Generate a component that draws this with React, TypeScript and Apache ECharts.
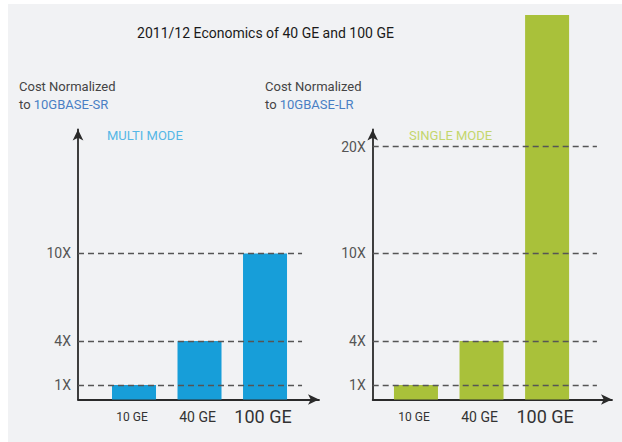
import React, { useEffect, useRef } from 'react';
import * as echarts from 'echarts';

const categories = ['10 GE', '40 GE', '100 GE'];
const multiModeCost = [1, 4, 10];
const singleModeCost = [1, 4, 32.3];
const multiModeTicks = [1, 4, 10];
const singleModeTicks = [1, 4, 10, 20];

const labelFontSizes = [12, 14, 18];

// the single-mode axis is compressed above 10X
const BREAK_AT = 10;
const UPPER_SLOPE = 0.732;
const linear = (v: number) => v;
const compressed = (v: number) => (v <= BREAK_AT ? v : BREAK_AT + (v - BREAK_AT) * UPPER_SLOPE);

const FONT = 'Roboto';
const BLUE = '#179ed9';
const GREEN = '#a9c13a';
const AXIS = '#2a2a2a';

function makeSeries(idx: number, values: number[], ticks: number[], f: (v: number) => number, color: string, xmin: number, dashEnd: number) {
  return {
    type: 'bar',
    xAxisIndex: idx,
    yAxisIndex: idx,
    barWidth: 44,
    clip: false,
    itemStyle: { color },
    data: values.map((v, i) => ({
      value: [i, f(v)],
      label: { fontSize: labelFontSizes[i] },
    })),
    label: {
      show: true,
      position: 'bottom',
      distance: 7,
      offset: [-2, 0],
      lineHeight: 20,
      color: '#333',
      fontFamily: FONT,
      formatter: (p: any) => categories[p.dataIndex],
    },
    markLine: {
      silent: true,
      symbol: ['none', 'none'],
      lineStyle: { type: [6, 4], color: '#555', width: 1.3 },
      label: {
        show: true,
        position: 'start',
        distance: 7,
        color: '#555',
        fontSize: 14,
        fontFamily: FONT,
      },
      data: ticks.map((t) => [
        { coord: [xmin, f(t)], label: { formatter: `${t}X` } },
        { coord: [dashEnd, f(t)] },
      ]),
    },
  };
}

const Y_MAX = 18.49;

export default function App() {
  const ref = useRef<HTMLDivElement>(null);
  useEffect(() => {
    if (!ref.current) return;
    const chart = echarts.init(ref.current, undefined, { renderer: 'svg' });
    const axisLine = {
      show: true,
      onZero: false,
      symbol: ['none', 'arrow'],
      symbolSize: [8, 11],
      lineStyle: { color: AXIS, width: 1.8 },
    };
    const xAxisBase = {
      type: 'value',
      axisLine,
      axisTick: { show: false },
      axisLabel: { show: false },
      splitLine: { show: false },
    };
    const yAxisBase = {
      type: 'value',
      min: 0,
      max: Y_MAX,
      axisLine,
      axisTick: { show: false },
      axisLabel: { show: false },
      splitLine: { show: false },
    };
    const leftMin = -0.855;
    const rightMin = -0.66;
    chart.setOption({
      animation: false,
      grid: [
        { left: 78, right: 622 - 319, top: 129.5, bottom: 442 - 399.5 },
        { left: 372.7, right: 622 - 612, top: 129.5, bottom: 442 - 399.5 },
      ],
      xAxis: [
        { ...xAxisBase, gridIndex: 0, min: leftMin, max: 2.824 },
        { ...xAxisBase, gridIndex: 1, min: rightMin, max: 2.99 },
      ],
      yAxis: [
        { ...yAxisBase, gridIndex: 0 },
        { ...yAxisBase, gridIndex: 1 },
      ],
      series: [
        makeSeries(0, multiModeCost, multiModeTicks, linear, BLUE, leftMin, 2.565),
        makeSeries(1, singleModeCost, singleModeTicks, compressed, GREEN, rightMin, 2.76),
      ],
      graphic: [
        {
          type: 'rect',
          z: -10,
          shape: { x: 8, y: 4, width: 614, height: 438 },
          style: { fill: '#f1f2f4' },
        },
        {
          type: 'text',
          x: 265.5,
          y: 33,
          style: {
            text: '2011/12 Economics of 40 GE and 100 GE',
            fill: '#1a1a1a',
            font: `14px ${FONT}`,
            align: 'center',
            verticalAlign: 'middle',
          },
        },
        {
          type: 'text',
          x: 19,
          y: 86,
          style: { text: 'Cost Normalized', fill: '#444', font: `13px ${FONT}`, verticalAlign: 'middle' },
        },
        {
          type: 'text',
          x: 19,
          y: 104,
          style: {
            text: 'to {b|10GBASE-SR}',
            fill: '#444',
            font: `13px ${FONT}`,
            verticalAlign: 'middle',
            rich: { b: { fill: '#4a7fc4', font: `13px ${FONT}` } },
          },
        },
        {
          type: 'text',
          x: 265,
          y: 86,
          style: { text: 'Cost Normalized', fill: '#444', font: `13px ${FONT}`, verticalAlign: 'middle' },
        },
        {
          type: 'text',
          x: 265,
          y: 104,
          style: {
            text: 'to {b|10GBASE-LR}',
            fill: '#444',
            font: `13px ${FONT}`,
            verticalAlign: 'middle',
            rich: { b: { fill: '#4a7fc4', font: `13px ${FONT}` } },
          },
        },
        {
          type: 'text',
          x: 107,
          y: 135,
          style: { text: 'MULTI MODE', fill: '#55b7e6', font: `13px ${FONT}`, verticalAlign: 'middle' },
        },
        {
          type: 'text',
          x: 409,
          y: 135,
          style: { text: 'SINGLE MODE', fill: '#c4d66c', font: `13px ${FONT}`, verticalAlign: 'middle' },
        },
      ],
    });
    return () => chart.dispose();
  }, []);
  return <div ref={ref} style={{ position: 'absolute', left: 0, top: 0, width: 622, height: 442 }} />;
}
